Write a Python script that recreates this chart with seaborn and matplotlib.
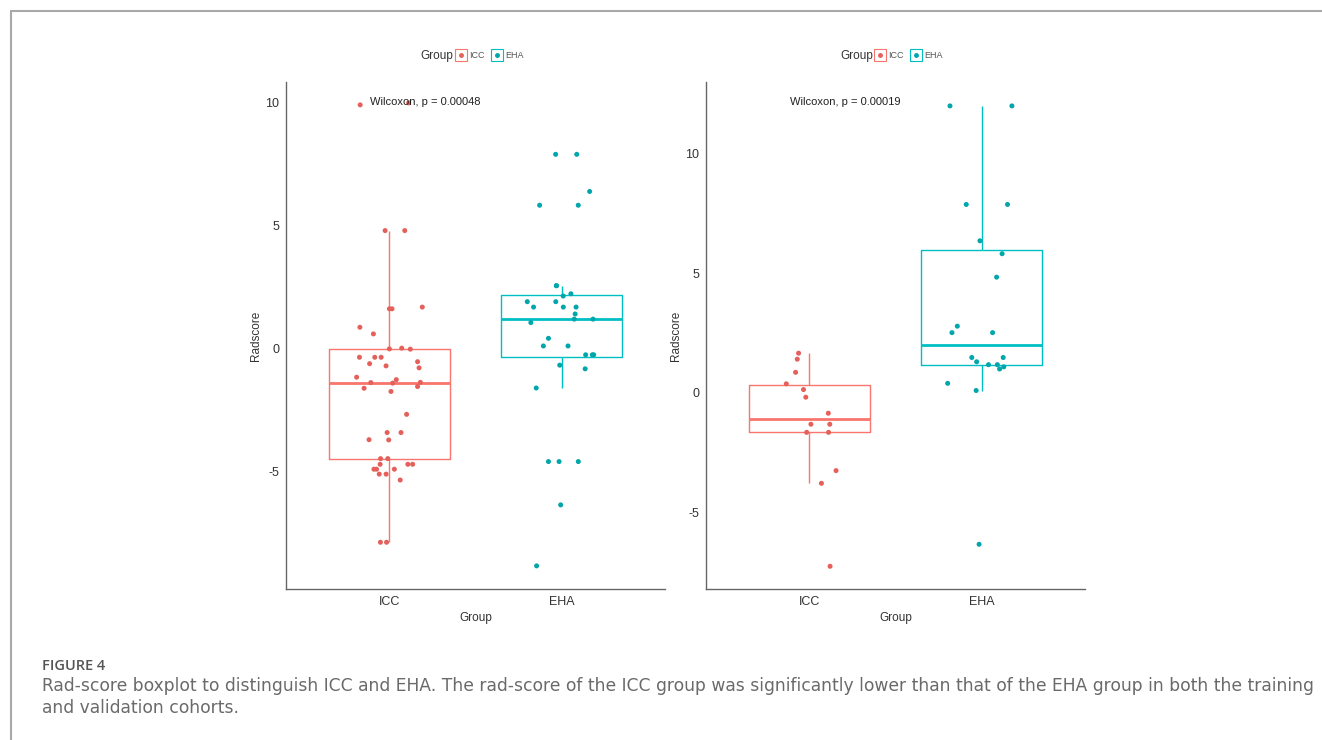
import numpy as np
import pandas as pd
import matplotlib
matplotlib.use("Agg")
import matplotlib.pyplot as plt
from matplotlib.lines import Line2D
import seaborn as sns

# ---------------- data ----------------
groups = ["ICC", "EHA"]

train_icc = [9.92, 10.0, 4.81, 4.81, 1.70, 1.63, 1.63, 0.88, 0.61, 0.00, 0.03,
             -0.01, -0.34, -0.34, -0.34, -0.52, -0.60, -0.69, -0.77, -1.15,
             -1.25, -1.36, -1.37, -1.39, -1.53, -1.60, -1.73, -2.66, -3.40,
             -3.40, -3.69, -3.70, -4.46, -4.46, -4.69, -4.69, -4.69, -4.89,
             -4.89, -4.89, -5.09, -5.09, -5.33, -7.86, -7.86]
train_eha = [7.91, 7.91, 6.40, 5.84, 5.84, 2.57, 2.57, 2.24, 2.15, 1.92, 1.92,
             1.70, 1.70, 1.70, 1.42, 1.21, 1.21, 1.07, 0.43, 0.12, 0.12,
             -0.24, -0.24, -0.24, -0.66, -0.81, -1.59, -4.58, -4.58, -4.58,
             -6.34, -8.82]

valid_icc = [1.66, 1.41, 0.86, 0.38, 0.14, -0.18, -0.85, -1.31, -1.31, -1.65,
             -1.65, -3.25, -3.78, -7.25]
valid_eha = [12.0, 12.0, 7.88, 7.88, 6.36, 5.82, 4.84, 2.79, 2.52, 2.52, 1.48,
             1.48, 1.30, 1.18, 1.18, 1.09, 1.00, 0.40, 0.10, -6.33]

p_labels = ["Wilcoxon, p = 0.00048", "Wilcoxon, p = 0.00019"]

caption_head = "FIGURE 4"
caption_1 = ("Rad-score boxplot to distinguish ICC and EHA. The rad-score of the ICC "
             "group was significantly lower than that of the EHA group in both the training")
caption_2 = "and validation cohorts."

box_colors = {"ICC": "#F8766D", "EHA": "#00BFC4"}
dot_colors = {"ICC": "#E5605A", "EHA": "#00A6AA"}


def make_df(icc, eha):
    return pd.DataFrame({
        "Group": ["ICC"] * len(icc) + ["EHA"] * len(eha),
        "Radscore": icc + eha,
    })


cohorts = [make_df(train_icc, train_eha), make_df(valid_icc, valid_eha)]

# ---------------- figure ----------------
sns.set_style("white")
plt.rcParams["font.family"] = ["Liberation Sans Narrow", "Liberation Sans", "DejaVu Sans"]

fig = plt.figure(figsize=(13.22, 7.4), dpi=100)
W, H = 1322, 740

panels = [
    dict(left=286, right=665, ylim=(-9.76, 10.85), text_x=370, group_x=420, leg_x=456),
    dict(left=706, right=1085, ylim=(-8.2, 13.0), text_x=790, group_x=840, leg_x=875),
]
top, bottom = 82, 589

np.random.seed(7)

for df, pan, ptxt in zip(cohorts, panels, p_labels):
    ax = fig.add_axes([pan["left"] / W, 1 - bottom / H,
                       (pan["right"] - pan["left"]) / W, (bottom - top) / H])

    sns.boxplot(data=df, x="Group", y="Radscore", hue="Group", order=groups,
                hue_order=groups, palette=box_colors, fill=False, width=0.7,
                whis=1.3, showfliers=False, linewidth=1.0, legend=False,
                medianprops={"linewidth": 2.0},
                capprops={"linewidth": 0}, ax=ax)
    sns.stripplot(data=df, x="Group", y="Radscore", hue="Group", order=groups,
                  hue_order=groups, palette=dot_colors, jitter=0.2, size=3.6,
                  linewidth=0, legend=False, ax=ax, zorder=3)

    ax.set_xlim(-0.6, 1.6)
    ax.set_ylim(*pan["ylim"])
    ax.set_yticks([-5, 0, 5, 10])
    ax.set_yticklabels(["-5", "0", "5", "10"])

    for s in ["top", "right"]:
        ax.spines[s].set_visible(False)
    for s in ["left", "bottom"]:
        ax.spines[s].set_color("#666666")
        ax.spines[s].set_linewidth(1.0)
    ax.tick_params(axis="both", length=3, width=0.8, color="#666666",
                   labelsize=9, labelcolor="#333333", pad=2)
    ax.set_xlabel("Group", fontsize=8.5, color="#333333", labelpad=3)
    ax.set_ylabel("Radscore", fontsize=8.5, color="#333333", labelpad=2)

    # p-value annotation
    fig.text(pan["text_x"] / W, 1 - 102 / H, ptxt, fontsize=8,
             color="#222222", va="center", ha="left")

    # legend row above the panel
    fig.text(pan["group_x"] / W, 1 - 56 / H, "Group", fontsize=8.5,
             color="#333333", va="center", ha="left")
    handles = []
    for g in groups:
        sq = Line2D([], [], marker="s", markersize=8, markerfacecolor="white",
                    markeredgecolor=box_colors[g], markeredgewidth=0.8, linestyle="none")
        dt = Line2D([], [], marker="o", markersize=2.5, color=dot_colors[g],
                    linestyle="none")
        handles.append((sq, dt))
    fig.legend(handles, groups, loc="center left",
               bbox_to_anchor=(pan["leg_x"] / W, 1 - 56 / H),
               ncol=2, frameon=False, fontsize=6.5, handlelength=1.0,
               handletextpad=0.4, columnspacing=0.9, borderpad=0,
               borderaxespad=0, labelcolor="#555555")

# frame lines of the figure page
fig.add_artist(Line2D([11 / W, 1], [1 - 11 / H, 1 - 11 / H], color="#a8a8a8", lw=1.5))
fig.add_artist(Line2D([11 / W, 11 / W], [0, 1 - 11 / H], color="#a8a8a8", lw=1.5))

# caption
fig.text(42 / W, 1 - 670 / H, caption_head, fontsize=10.5, fontweight="semibold",
         family=["Open Sans", "DejaVu Sans"], color="#555555", va="baseline")
fig.text(42 / W, 1 - 691 / H, caption_1, fontsize=12.3,
         family=["DejaVu Sans"], color="#6a6a6a", va="baseline")
fig.text(42 / W, 1 - 713 / H, caption_2, fontsize=12.3,
         family=["DejaVu Sans"], color="#6a6a6a", va="baseline")

fig.savefig("out.png", dpi=100, facecolor="white")
